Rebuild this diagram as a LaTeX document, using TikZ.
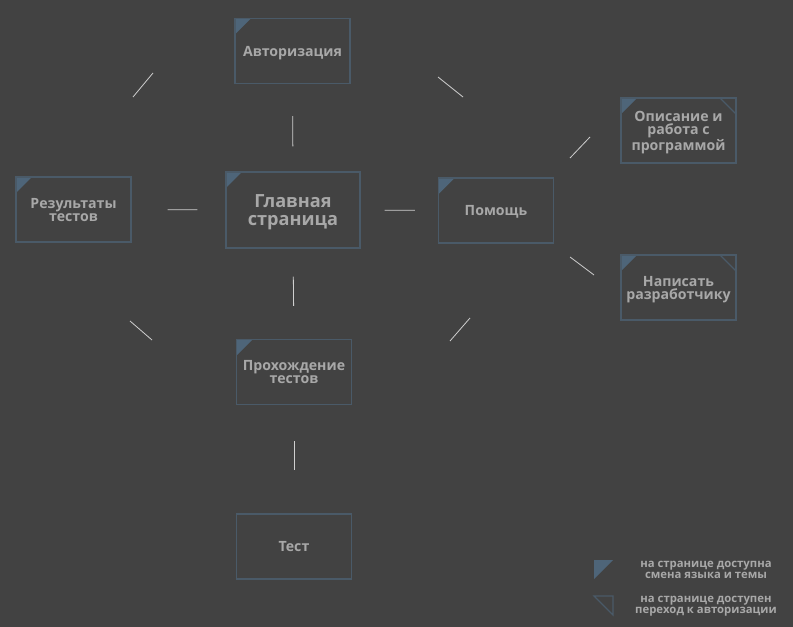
\documentclass[tikz,border=0pt]{standalone}
\usepackage{fontspec}
\setmainfont{Open Sans}
\usetikzlibrary{calc,positioning}
\definecolor{bg}{HTML}{424242}
\definecolor{frame}{HTML}{4A5A68}
\definecolor{flag}{HTML}{4E6579}
\definecolor{label}{HTML}{A8A8A8}
\definecolor{wire}{HTML}{CFCFCF}
\newcommand\langcorner{\fill[flag] (path picture bounding box.north west) -- ++(12pt,0pt) -- ++(-12pt,-12pt) -- cycle;}
\newcommand\authcorner{\draw[frame,line width=0.9pt] ([xshift=-12pt]path picture bounding box.north east) -- ([yshift=-12pt]path picture bounding box.north east);}
\tikzset{
  pagebox/.style={draw=frame,line width=1.1pt,fill=bg,align=center,text=label,font=\fontsize{10.6}{9.75}\selectfont\bfseries,minimum width=86.25pt,minimum height=48.75pt,inner sep=2pt,text depth=0pt},
  langflag/.style={path picture={\langcorner}},
  bothflags/.style={path picture={\langcorner\authcorner}},
  link/.style={draw=wire,line width=0.6pt},
  legendtext/.style={text=label,font=\fontsize{8.5}{8.25}\selectfont\bfseries,align=center}
}
\begin{document}
\begin{tikzpicture}[x=0.75pt,y=-0.75pt]
  \fill[bg] (0,0) rectangle (793,627);
  \useasboundingbox (0,0) rectangle (793,627);

  % pages
  \node[pagebox,langflag,minimum width=100.5pt,minimum height=57pt,font=\fontsize{13.6}{13}\selectfont\bfseries] (main) at (293,210) {Главная\\страница};
  \node[pagebox,langflag] (auth) at (292.5,51) {Авторизация};
  \node[pagebox,langflag] (results) at (73.5,209.5) {Результаты\\тестов};
  \node[pagebox,langflag] (help) at (496,210.5) {Помощь};
  \node[pagebox,bothflags] (about) at (678.5,130.5) {Описание и\\работа с\\программой};
  \node[pagebox,bothflags] (contact) at (678.5,287.5) {Написать\\разработчику};
  \node[pagebox,langflag] (passing) at (294,372) {Прохождение\\тестов};
  \node[pagebox] (test) at (294,546.5) {Тест};

  % straight links
  \draw[link,shorten <=18.75pt,shorten >=24pt] (main.north) -- (auth.south);
  \draw[link,shorten <=21pt,shorten >=27pt] (main.west) -- (results.east);
  \draw[link,shorten <=18pt,shorten >=17.25pt] (main.east) -- (help.west);
  \draw[link,shorten <=21pt,shorten >=24.75pt] (main.south) -- (passing.north);
  \draw[link,shorten <=27pt,shorten >=32.25pt] (passing.south) -- (test.north);

  % diagonal links
  \coordinate (ra1) at (133,97);  \coordinate (ra2) at (153,73);
  \coordinate (ah1) at (438,77);  \coordinate (ah2) at (463,97);
  \coordinate (hb1) at (570,158); \coordinate (hb2) at (590,137);
  \coordinate (hc1) at (570,257); \coordinate (hc2) at (594,275);
  \coordinate (rp1) at (130,321); \coordinate (rp2) at (152,340);
  \coordinate (ph1) at (450,341); \coordinate (ph2) at (470,318);
  \draw[link] (ra1) -- (ra2);
  \draw[link] (ah1) -- (ah2);
  \draw[link] (hb1) -- (hb2);
  \draw[link] (hc1) -- (hc2);
  \draw[link] (rp1) -- (rp2);
  \draw[link] (ph1) -- (ph2);

  % legend
  \fill[flag] (594,560) -- (613,560) -- (594,579) -- cycle;
  \draw[frame,line width=0.9pt] (594,596) -- (613,596) -- (613,615) -- cycle;
  \node[legendtext] (langnote) at (706,570) {на странице доступна\\смена языка и темы};
  \node[legendtext] (authnote) at (706,606) {на странице доступен\\переход к авторизации};
\end{tikzpicture}
\end{document}
